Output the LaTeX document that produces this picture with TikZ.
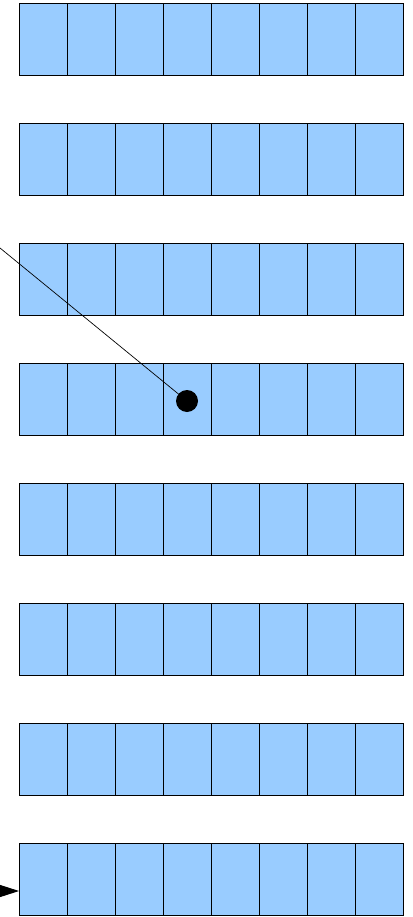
\documentclass[tikz,border=0pt]{standalone}
\usepackage{tikz}
\usetikzlibrary{positioning, arrows.meta, calc}
\definecolor{cellblue}{HTML}{99CCFF}

\begin{document}
\begin{tikzpicture}[x=1pt, y=-1pt,
    cell/.style={draw, fill=cellblue, line width=0.9pt, inner sep=0pt, outer sep=0pt, minimum width=48pt, minimum height=72pt},
    marker/.style={circle, fill=black, inner sep=0pt, minimum size=22pt}]
  \useasboundingbox (0,0) rectangle (412,917);
  % eight rows of eight cells
  \foreach \r in {1,...,8}
    \foreach \c in {1,...,8}
      \node[cell] (c\r-\c) at ({19+48*(\c-0.5)}, {39+120*(\r-1)}) {};
  \node[marker] (dot) at (187,401) {};
  \coordinate (lstart) at (0,248);
  \draw[line width=0.7pt] (lstart) -- (dot.center);
  \coordinate (astart) at (0,891);
  \coordinate (aend) at ($(c8-1.south west)+(0,-24)$);
  \draw[-{Triangle[length=19pt, width=12pt]}, line width=0.9pt] (astart) -- (aend);
\end{tikzpicture}
\end{document}
